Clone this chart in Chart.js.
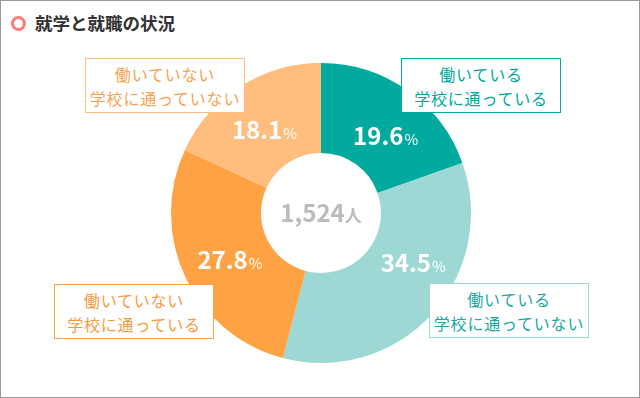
<!DOCTYPE html>
<html lang="ja">
<head>
<meta charset="utf-8">
<script src="https://cdn.jsdelivr.net/npm/chart.js@4/dist/chart.umd.min.js"></script>
<style>
  html, body { margin: 0; padding: 0; background: #fff; }
  body { font-family: "Noto Sans CJK JP", "Noto Sans", sans-serif; }
  .frame { position: relative; width: 640px; height: 398px; box-sizing: border-box; border: 1px solid #999; overflow: hidden; }
  .title { position: absolute; left: 34px; top: 10px; font-size: 17.5px; font-weight: bold; color: #333; line-height: 24px; }
  .ring { position: absolute; left: 10px; top: 15px; width: 9px; height: 9px; border: 3px solid #ff7a7a; border-radius: 50%; }
  .chart-box { position: absolute; left: 170px; top: 62px; width: 300px; height: 300px; }
  .tag { position: absolute; box-sizing: border-box; width: 160px; height: 55px; background: #fff; border: 1px solid; text-align: center; font-size: 16px; line-height: 24px; padding-top: 3px; letter-spacing: 0.8px; }
</style>
</head>
<body>
<div class="frame">
  <div class="ring"></div>
  <div class="title">就学と就職の状況</div>
  <div class="chart-box"><canvas id="pie"></canvas></div>
  <div id="tags"></div>
</div>
<script>
const categories = ['働いている\n学校に通っている', '働いている\n学校に通っていない', '働いていない\n学校に通っている', '働いていない\n学校に通っていない'];
const shares = [19.6, 34.5, 27.8, 18.1];
const totalPeople = '1,524';

const sliceColors = ['#00aa9f', '#9dd8d4', '#ffa243', '#ffbe7d'];
const tagBorders = ['#00aa9f', '#9dd8d4', '#f9a04a', '#fbbd80'];
const tagText = ['#00a99d', '#1aa89e', '#f79b3f', '#f7a250'];
const tagPos = [[400, 57], [428, 282], [53, 283], [84, 57]];
// nudges for the % labels away from the arc midpoint
const labelNudge = [[4, 9], [15, -21], [4, 2], [0, 5]];

const tagsEl = document.getElementById('tags');
categories.forEach((c, i) => {
  const d = document.createElement('div');
  d.className = 'tag';
  d.style.left = tagPos[i][0] + 'px';
  d.style.top = tagPos[i][1] + 'px';
  d.style.borderColor = tagBorders[i];
  d.style.color = tagText[i];
  d.innerHTML = c.split('\n').join('<br>');
  tagsEl.appendChild(d);
});

const labelPlugin = {
  id: 'labels',
  afterDatasetsDraw(chart) {
    const ctx = chart.ctx;
    const meta = chart.getDatasetMeta(0);
    ctx.save();
    ctx.textBaseline = 'alphabetic';
    meta.data.forEach((arc, i) => {
      const p = arc.tooltipPosition();
      const x = p.x + labelNudge[i][0];
      const y = p.y + labelNudge[i][1];
      const num = shares[i].toFixed(1);
      ctx.font = 'bold 24px "Noto Sans CJK JP"';
      const w1 = ctx.measureText(num).width;
      ctx.font = '15px "Noto Sans CJK JP"';
      const w2 = ctx.measureText('%').width;
      const left = x - (w1 + w2 + 1) / 2;
      ctx.fillStyle = '#fff';
      ctx.textAlign = 'left';
      ctx.font = 'bold 24px "Noto Sans CJK JP"';
      ctx.fillText(num, left, y + 9);
      ctx.font = '15px "Noto Sans CJK JP"';
      ctx.fillText('%', left + w1 + 1, y + 9);
    });
    // centre total
    const cx = (chart.chartArea.left + chart.chartArea.right) / 2;
    const cy = (chart.chartArea.top + chart.chartArea.bottom) / 2;
    ctx.font = 'bold 24px "Noto Sans CJK JP"';
    const a = ctx.measureText(totalPeople).width;
    ctx.font = 'bold 17px "Noto Sans CJK JP"';
    const b = ctx.measureText('人').width;
    const l = cx - (a + b) / 2;
    ctx.fillStyle = '#bbbbbb';
    ctx.font = 'bold 24px "Noto Sans CJK JP"';
    ctx.fillText(totalPeople, l, cy + 9);
    ctx.font = 'bold 17px "Noto Sans CJK JP"';
    ctx.fillText('人', l + a, cy + 9);
    ctx.restore();
  }
};

new Chart(document.getElementById('pie'), {
  type: 'doughnut',
  data: {
    labels: categories,
    datasets: [{
      data: shares,
      backgroundColor: sliceColors,
      borderWidth: 0
    }]
  },
  options: {
    responsive: true,
    maintainAspectRatio: false,
    animation: false,
    cutout: '40%',
    layout: { padding: 0 },
    plugins: {
      legend: { display: false },
      tooltip: { enabled: false }
    }
  },
  plugins: [labelPlugin]
});
</script>
</body>
</html>
